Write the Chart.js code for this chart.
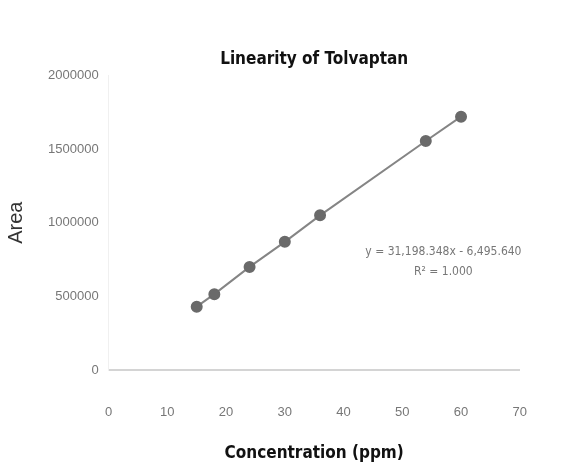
<!DOCTYPE html>
<html>
<head>
<meta charset="utf-8">
<script src="https://cdn.jsdelivr.net/npm/chart.js@4/dist/chart.umd.min.js"></script>
<style>
  html, body { margin: 0; padding: 0; background: #fff; }
  #grafico { display: block; }
</style>
</head>
<body>
<canvas id="grafico" width="562" height="472"></canvas>
<script>
// dados
const concentracoes = [15, 18, 24, 30, 36, 54, 60]
const areas = [430000, 515000, 700000, 870000, 1050000, 1555000, 1720000]
const equacao = 'y = 31,198.348x - 6,495.640'
const r2 = 'R² = 1.000'

// posicao do texto da equacao (em valores dos eixos)
const posEquacaoX = [57]
const posEquacaoY = [800000]

const pontos = concentracoes.map((c, i) => ({ x: c, y: areas[i] }))

// plugin simples para escrever a equacao da linha de tendencia
const textoEquacao = {
    id: 'textoEquacao',
    afterDatasetsDraw(chart) {
        const { ctx, scales } = chart
        const x = scales.x.getPixelForValue(posEquacaoX[0])
        const y = scales.y.getPixelForValue(posEquacaoY[0])
        ctx.save()
        ctx.fillStyle = '#777'
        ctx.font = '12px "Liberation Sans Narrow", "DejaVu Sans Condensed", sans-serif'
        ctx.textAlign = 'center'
        ctx.textBaseline = 'middle'
        ctx.fillText(equacao, x, y)
        ctx.fillText(r2, x, y + 20)
        ctx.restore()
    }
}

const fonteNarrow = '"Liberation Sans Narrow", "DejaVu Sans Condensed", sans-serif'

const ctx = document.getElementById('grafico')
new Chart(ctx, {
    type: 'scatter',
    data: {
        datasets: [{
            label: 'Area',
            data: pontos,
            showLine: true,
            borderColor: '#858585',
            borderWidth: 2,
            backgroundColor: '#6a6a6a',
            pointBackgroundColor: '#6a6a6a',
            pointBorderColor: '#6a6a6a',
            pointRadius: 5
        }]
    },
    options: {
        responsive: false,
        animation: false,
        layout: { padding: { left: 4, right: 16, top: 49, bottom: 8 } },
        plugins: {
            legend: { display: false },
            tooltip: { enabled: false },
            title: {
                display: true,
                fullSize: false,
                text: 'Linearity of Tolvaptan',
                color: '#111',
                font: { family: fonteNarrow, size: 17, weight: 'bold' },
                padding: { top: 0, bottom: 6 }
            }
        },
        scales: {
            x: {
                type: 'linear',
                min: 0,
                max: 70,
                ticks: {
                    stepSize: 10,
                    color: '#777',
                    padding: 35,
                    font: { family: '"Liberation Sans", sans-serif', size: 13 }
                },
                grid: { display: false, drawTicks: false },
                border: { display: true, color: '#d4d4d4', width: 2 },
                title: {
                    display: true,
                    text: 'Concentration (ppm)',
                    color: '#111',
                    font: { family: fonteNarrow, size: 17, weight: 'bold' },
                    padding: { top: -12, bottom: 0 }
                }
            },
            y: {
                min: 0,
                max: 2000000,
                ticks: {
                    stepSize: 500000,
                    color: '#777',
                    padding: 10,
                    font: { family: '"Liberation Sans", sans-serif', size: 13 },
                    callback: (v) => String(v)
                },
                grid: { display: false, drawTicks: false },
                border: { display: true, color: '#f0f0f0', width: 1 },
                title: {
                    display: true,
                    text: 'Area',
                    color: '#333',
                    font: { family: '"Liberation Sans", sans-serif', size: 20 },
                    padding: { top: 0, bottom: 10 }
                }
            }
        }
    },
    plugins: [textoEquacao]
})
</script>
</body>
</html>
